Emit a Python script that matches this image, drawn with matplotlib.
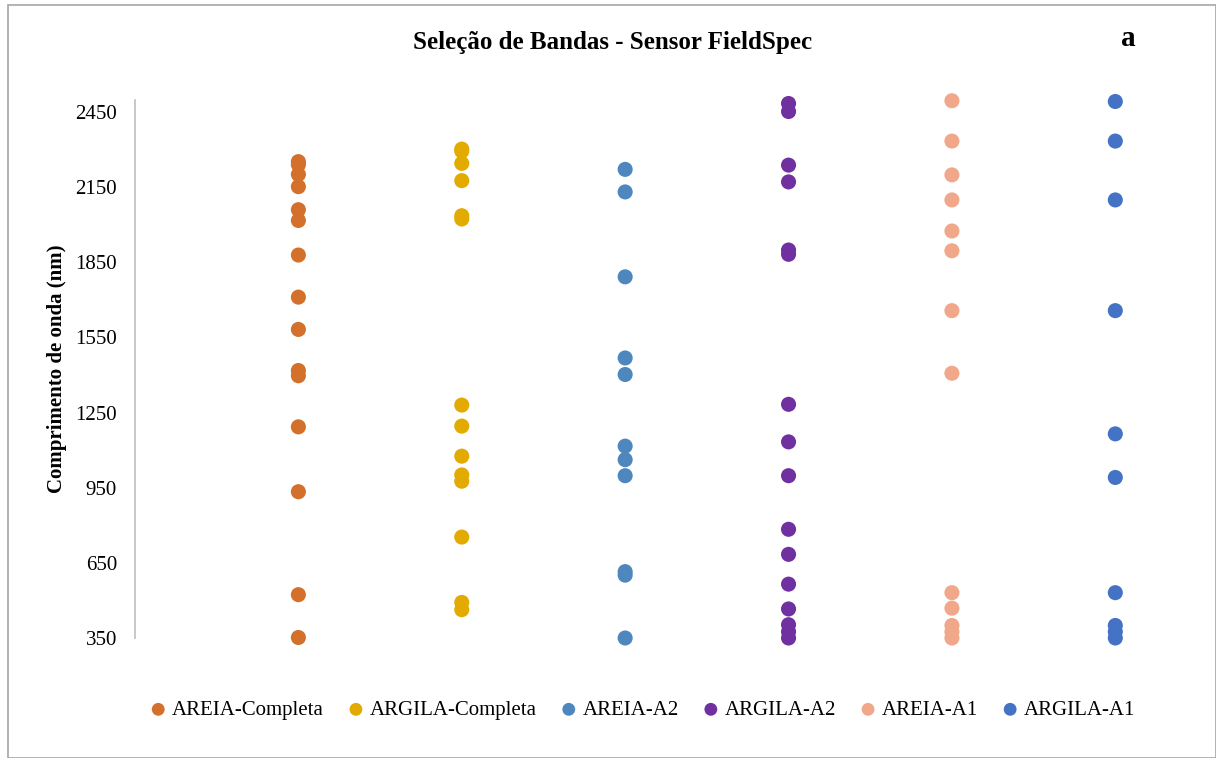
import matplotlib
matplotlib.use("Agg")
import matplotlib.pyplot as plt
from matplotlib.patches import Rectangle

series_names = ["AREIA-Completa", "ARGILA-Completa", "AREIA-A2", "ARGILA-A2", "AREIA-A1", "ARGILA-A1"]
colors = ["#D2702C", "#E3AA00", "#4E87BE", "#7030A0", "#F0A78A", "#4472C4"]

areia_completa = [2252, 2240, 2201, 2152, 2060, 2017, 1879, 1711, 1582, 1418, 1397, 1193, 934, 523, 352]
argila_completa = [2302, 2294, 2245, 2176, 2036, 2023, 1280, 1196, 1076, 1001, 976, 753, 492, 463]
areia_a2 = [2221, 2131, 1792, 1468, 1402, 1116, 1062, 998, 615, 601, 350]
argila_a2 = [2484, 2452, 2238, 2171, 1899, 1882, 1283, 1133, 998, 784, 684, 565, 466, 403, 375, 350]
areia_a1 = [2495, 2334, 2199, 2099, 1975, 1896, 1657, 1407, 531, 469, 400, 375, 350]
argila_a1 = [2492, 2334, 2099, 1657, 1165, 991, 531, 400, 375, 350]
all_series = [areia_completa, argila_completa, areia_a2, argila_a2, areia_a1, argila_a1]

y_ticks = [350, 650, 950, 1250, 1550, 1850, 2150, 2450]

plt.rcParams['font.family'] = ['Liberation Serif', 'DejaVu Serif']

fig = plt.figure(figsize=(12.16, 7.58), dpi=100)
ax = fig.add_axes([135/1216, 1 - 638/758, (1197 - 135)/1216, 538.5/758])

for i, (name, vals, c) in enumerate(zip(series_names, all_series, colors)):
    ax.scatter([i + 1] * len(vals), vals, s=118, color=c, label=name,
               edgecolors='none', zorder=3, clip_on=False)

ax.set_xlim(0, 6.5)
ax.set_ylim(350, 2500)
ax.set_yticks(y_ticks)
ax.set_yticklabels([str(t) for t in y_ticks], fontsize=15)
ax.set_xticks([])
ax.tick_params(axis='y', length=0, pad=13)
for side in ['top', 'right', 'bottom']:
    ax.spines[side].set_visible(False)
ax.spines['left'].set_color('#BFBFBF')
ax.spines['left'].set_linewidth(1.2)
ax.set_ylabel("Comprimento de onda (nm)", fontsize=15, fontweight='bold', labelpad=6)

fig.text(613/1216, 1 - 42/758, "Seleção de Bandas - Sensor FieldSpec", ha='center', va='center',
         fontsize=18, fontweight='bold')
fig.text(1128/1216, 1 - 38/758, "a", ha='center', va='center', fontsize=21, fontweight='bold')

leg = fig.legend(loc='center', bbox_to_anchor=(643/1216, 1 - 710/758), ncol=6, frameon=False,
                 fontsize=15, handlelength=0.7, handletextpad=0.3, columnspacing=1.2,
                 markerscale=0.85, borderaxespad=0)

fig.patches.append(Rectangle((8/1216, 0.0), 1 - 8/1216, 1 - 5/758, transform=fig.transFigure,
                             fill=False, edgecolor='#A6A6A6', linewidth=1.2))

fig.savefig("out.png", dpi=100)
